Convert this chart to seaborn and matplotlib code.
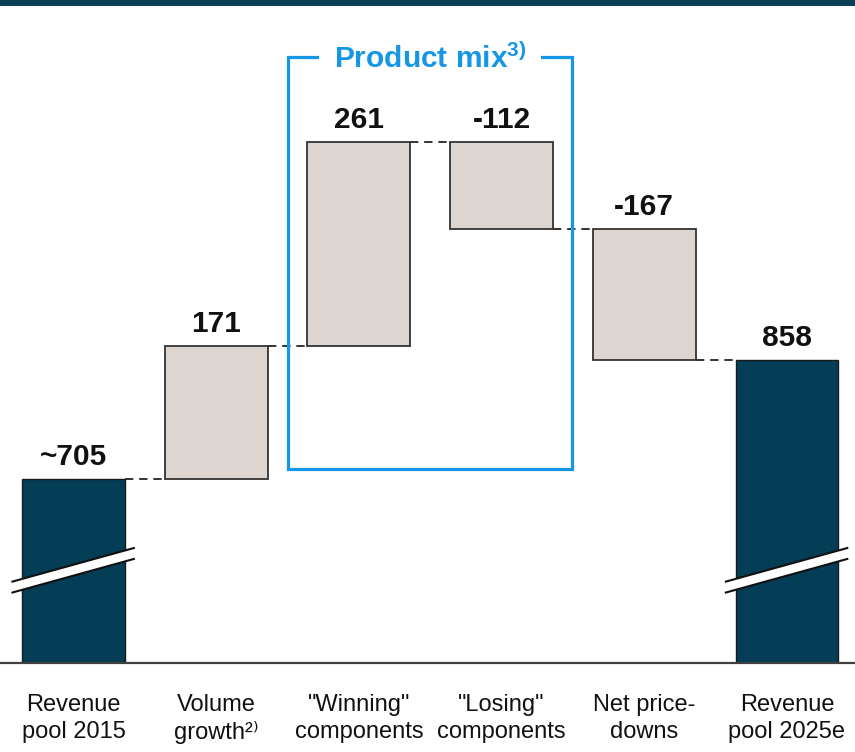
import matplotlib
matplotlib.use("Agg")
import matplotlib.pyplot as plt
from matplotlib.patches import Rectangle, Polygon
import numpy as np
import pandas as pd
import seaborn as sns

# ---- data -------------------------------------------------------------
categories = ["Revenue\npool 2015", "Volume\ngrowth\u00b2\u207e", "\"Winning\"\ncomponents",
              "\"Losing\"\ncomponents", "Net price-\ndowns", "Revenue\npool 2025e"]
start_value = 705
changes = [171, 261, -112, -167]
end_value = 858
value_labels = ["~705", "171", "261", "-112", "-167", "858"]
group_title = "Product mix$^{3)}$"
axis_floor = 469          # the value axis is broken: it starts here
break_low, break_high = 559, 573   # value of the break band at bar's left edge

# ---- styling ----------------------------------------------------------
sns.set_style("white")
plt.rcParams["font.family"] = ["Liberation Sans", "DejaVu Sans"]
plt.rcParams["mathtext.default"] = "regular"

NAVY = "#033d56"
SAND = "#ddd5cf"
BLUE = "#1597e5"
INK = "#111111"

# ---- waterfall geometry ----------------------------------------------
running = np.concatenate([[start_value], start_value + np.cumsum(changes)])
bottoms = [0] + [min(running[i], running[i + 1]) for i in range(len(changes))] + [0]
heights = [start_value] + [abs(c) for c in changes] + [end_value]
tops = [b + h for b, h in zip(bottoms, heights)]
levels = list(running)  # connector level after each bar

df = pd.DataFrame({"step": [f"s{i}" for i in range(len(categories))],
                   "height": heights})

fig = plt.figure(figsize=(8.55, 7.52), dpi=100)
ax = fig.add_axes([0, 89 / 752, 1, 663 / 752])

bar_w = 0.72
sns.barplot(data=df, x="step", y="height", bottom=bottoms, width=bar_w,
            color=SAND, ax=ax, zorder=2)
for i, p in enumerate(ax.patches):
    total = i in (0, len(categories) - 1)
    p.set_facecolor(NAVY if total else SAND)
    p.set_edgecolor("#1a1a1a" if total else "#333333")
    p.set_linewidth(1.0 if total else 1.3)

ax.set_xlim(-0.515, 5.477)
ax.set_ylim(axis_floor, 1319)

# dashed connectors between neighbouring bars
for i, lvl in enumerate(levels):
    ax.plot([i + bar_w / 2, i + 1 - bar_w / 2], [lvl, lvl], color=INK, lw=1.2,
            ls=(0, (5, 3.5)), zorder=1)

# axis-break marks on the two total bars
slope = 43.5 / 0.86
for i in (0, len(categories) - 1):
    xl, xr = i - 0.435, i + 0.43
    lo_l, hi_l = break_low, break_high
    lo_r, hi_r = lo_l + slope * (xr - xl), hi_l + slope * (xr - xl)
    ax.add_patch(Polygon([[xl, lo_l], [xr, lo_r], [xr, hi_r], [xl, hi_l]],
                         closed=True, facecolor="white", edgecolor="none", zorder=3))
    ax.plot([xl, xr], [lo_l, lo_r], color=INK, lw=1.5, zorder=4, solid_capstyle="butt")
    ax.plot([xl, xr], [hi_l, hi_r], color=INK, lw=1.5, zorder=4, solid_capstyle="butt")

# value labels
for i, (t, lab) in enumerate(zip(tops, value_labels)):
    ax.annotate(lab, (i, t), xytext=(0, 10), textcoords="offset points",
                ha="center", va="baseline", fontsize=21.5, fontweight="bold",
                color=INK, zorder=5)

# bracket around the product-mix steps
box_x0, box_x1 = 1.503, 3.493
box_y0, box_y1 = 718, 1246
ax.add_patch(Rectangle((box_x0, box_y0), box_x1 - box_x0, box_y1 - box_y0,
                       fill=False, edgecolor=BLUE, lw=2.3, zorder=6, clip_on=False))
ax.annotate(group_title, ((box_x0 + box_x1) / 2, box_y1), xytext=(0, -8),
            textcoords="offset points", ha="center", va="baseline",
            fontsize=21.5, fontweight="bold", color=BLUE,
            zorder=7, bbox=dict(boxstyle="square,pad=0.5", facecolor="white",
                                edgecolor="none"))

# axes cosmetics
for s in ("top", "left", "right"):
    ax.spines[s].set_visible(False)
ax.spines["bottom"].set_color("#404040")
ax.spines["bottom"].set_linewidth(1.6)
ax.set_yticks([])
ax.set_xticks(range(len(categories)))
ax.set_xticklabels(categories, fontsize=17, color=INK, linespacing=1.3)
ax.tick_params(axis="x", length=0, pad=22)
ax.set_xlabel("")
ax.set_ylabel("")

# dark rule along the top edge
fig.patches.append(Rectangle((0, 1 - 6 / 752), 1, 6 / 752, transform=fig.transFigure,
                             facecolor="#0b3f56", edgecolor="none"))

fig.savefig("out.png", dpi=100)
